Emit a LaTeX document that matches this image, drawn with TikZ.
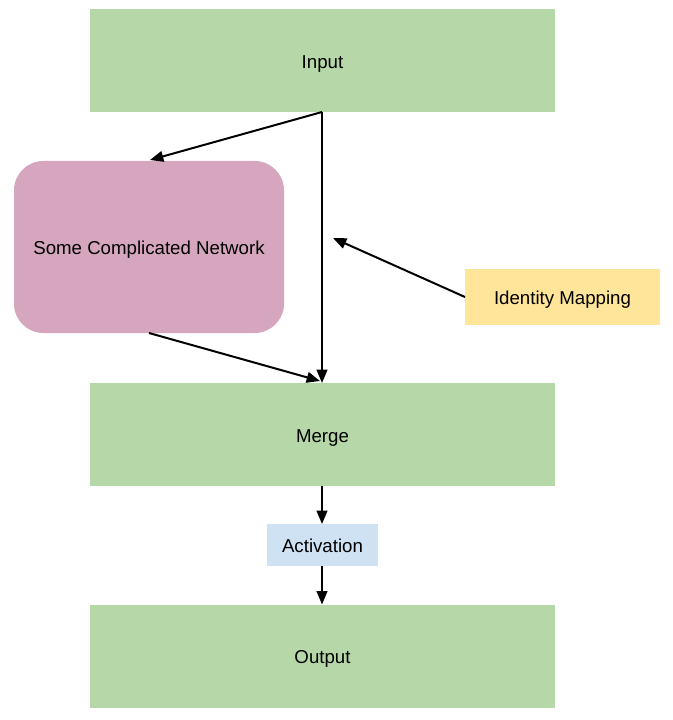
\documentclass[tikz,border=0pt]{standalone}
\usepackage{fontspec}
\setmainfont{Liberation Sans}
\usetikzlibrary{arrows.meta}
\definecolor{boxgreen}{HTML}{B6D7A8}
\definecolor{boxpink}{HTML}{D5A6BD}
\definecolor{boxyellow}{HTML}{FFE599}
\definecolor{boxblue}{HTML}{CFE2F3}
\begin{document}
\begin{tikzpicture}[x=0.75pt,y=-0.75pt,
  every node/.style={font=\fontsize{14}{16}\selectfont, inner sep=0pt, outer sep=0pt, text height=11.5pt, text depth=0pt},
  bigbox/.style={fill=boxgreen, minimum width=465*0.75pt, minimum height=103*0.75pt},
  conn/.style={draw=black, line width=1.5pt, -{Triangle[length=10pt,width=8pt]}}]
\useasboundingbox (0,0) rectangle (672,720);
\node[bigbox] (input) at (322.5,60.5) {Input};
\node[fill=boxpink, rounded corners=22pt, minimum width=270*0.75pt, minimum height=172*0.75pt] (net) at (149,247) {Some Complicated Network};
\node[fill=boxyellow, minimum width=195*0.75pt, minimum height=56*0.75pt] (idm) at (562.5,297) {Identity Mapping};
\node[bigbox] (merge) at (322.5,434.5) {Merge};
\node[fill=boxblue, minimum width=111*0.75pt, minimum height=42*0.75pt] (act) at (322.5,545) {Activation};
\node[bigbox] (output) at (322.5,656) {Output};
\coordinate (split) at (322,112);
\coordinate (idtip) at (333,238);
\draw[conn] (split) -- (150,160);
\draw[conn] (split) -- (322,383);
\draw[conn] (idm.west) -- (idtip);
\draw[conn] (net.south) -- (320,381);
\draw[conn] (merge.south -| 322,0) -- (act.north -| 322,0);
\draw[conn] (act.south -| 322,0) -- (output.north -| 322,0);
\end{tikzpicture}
\end{document}
